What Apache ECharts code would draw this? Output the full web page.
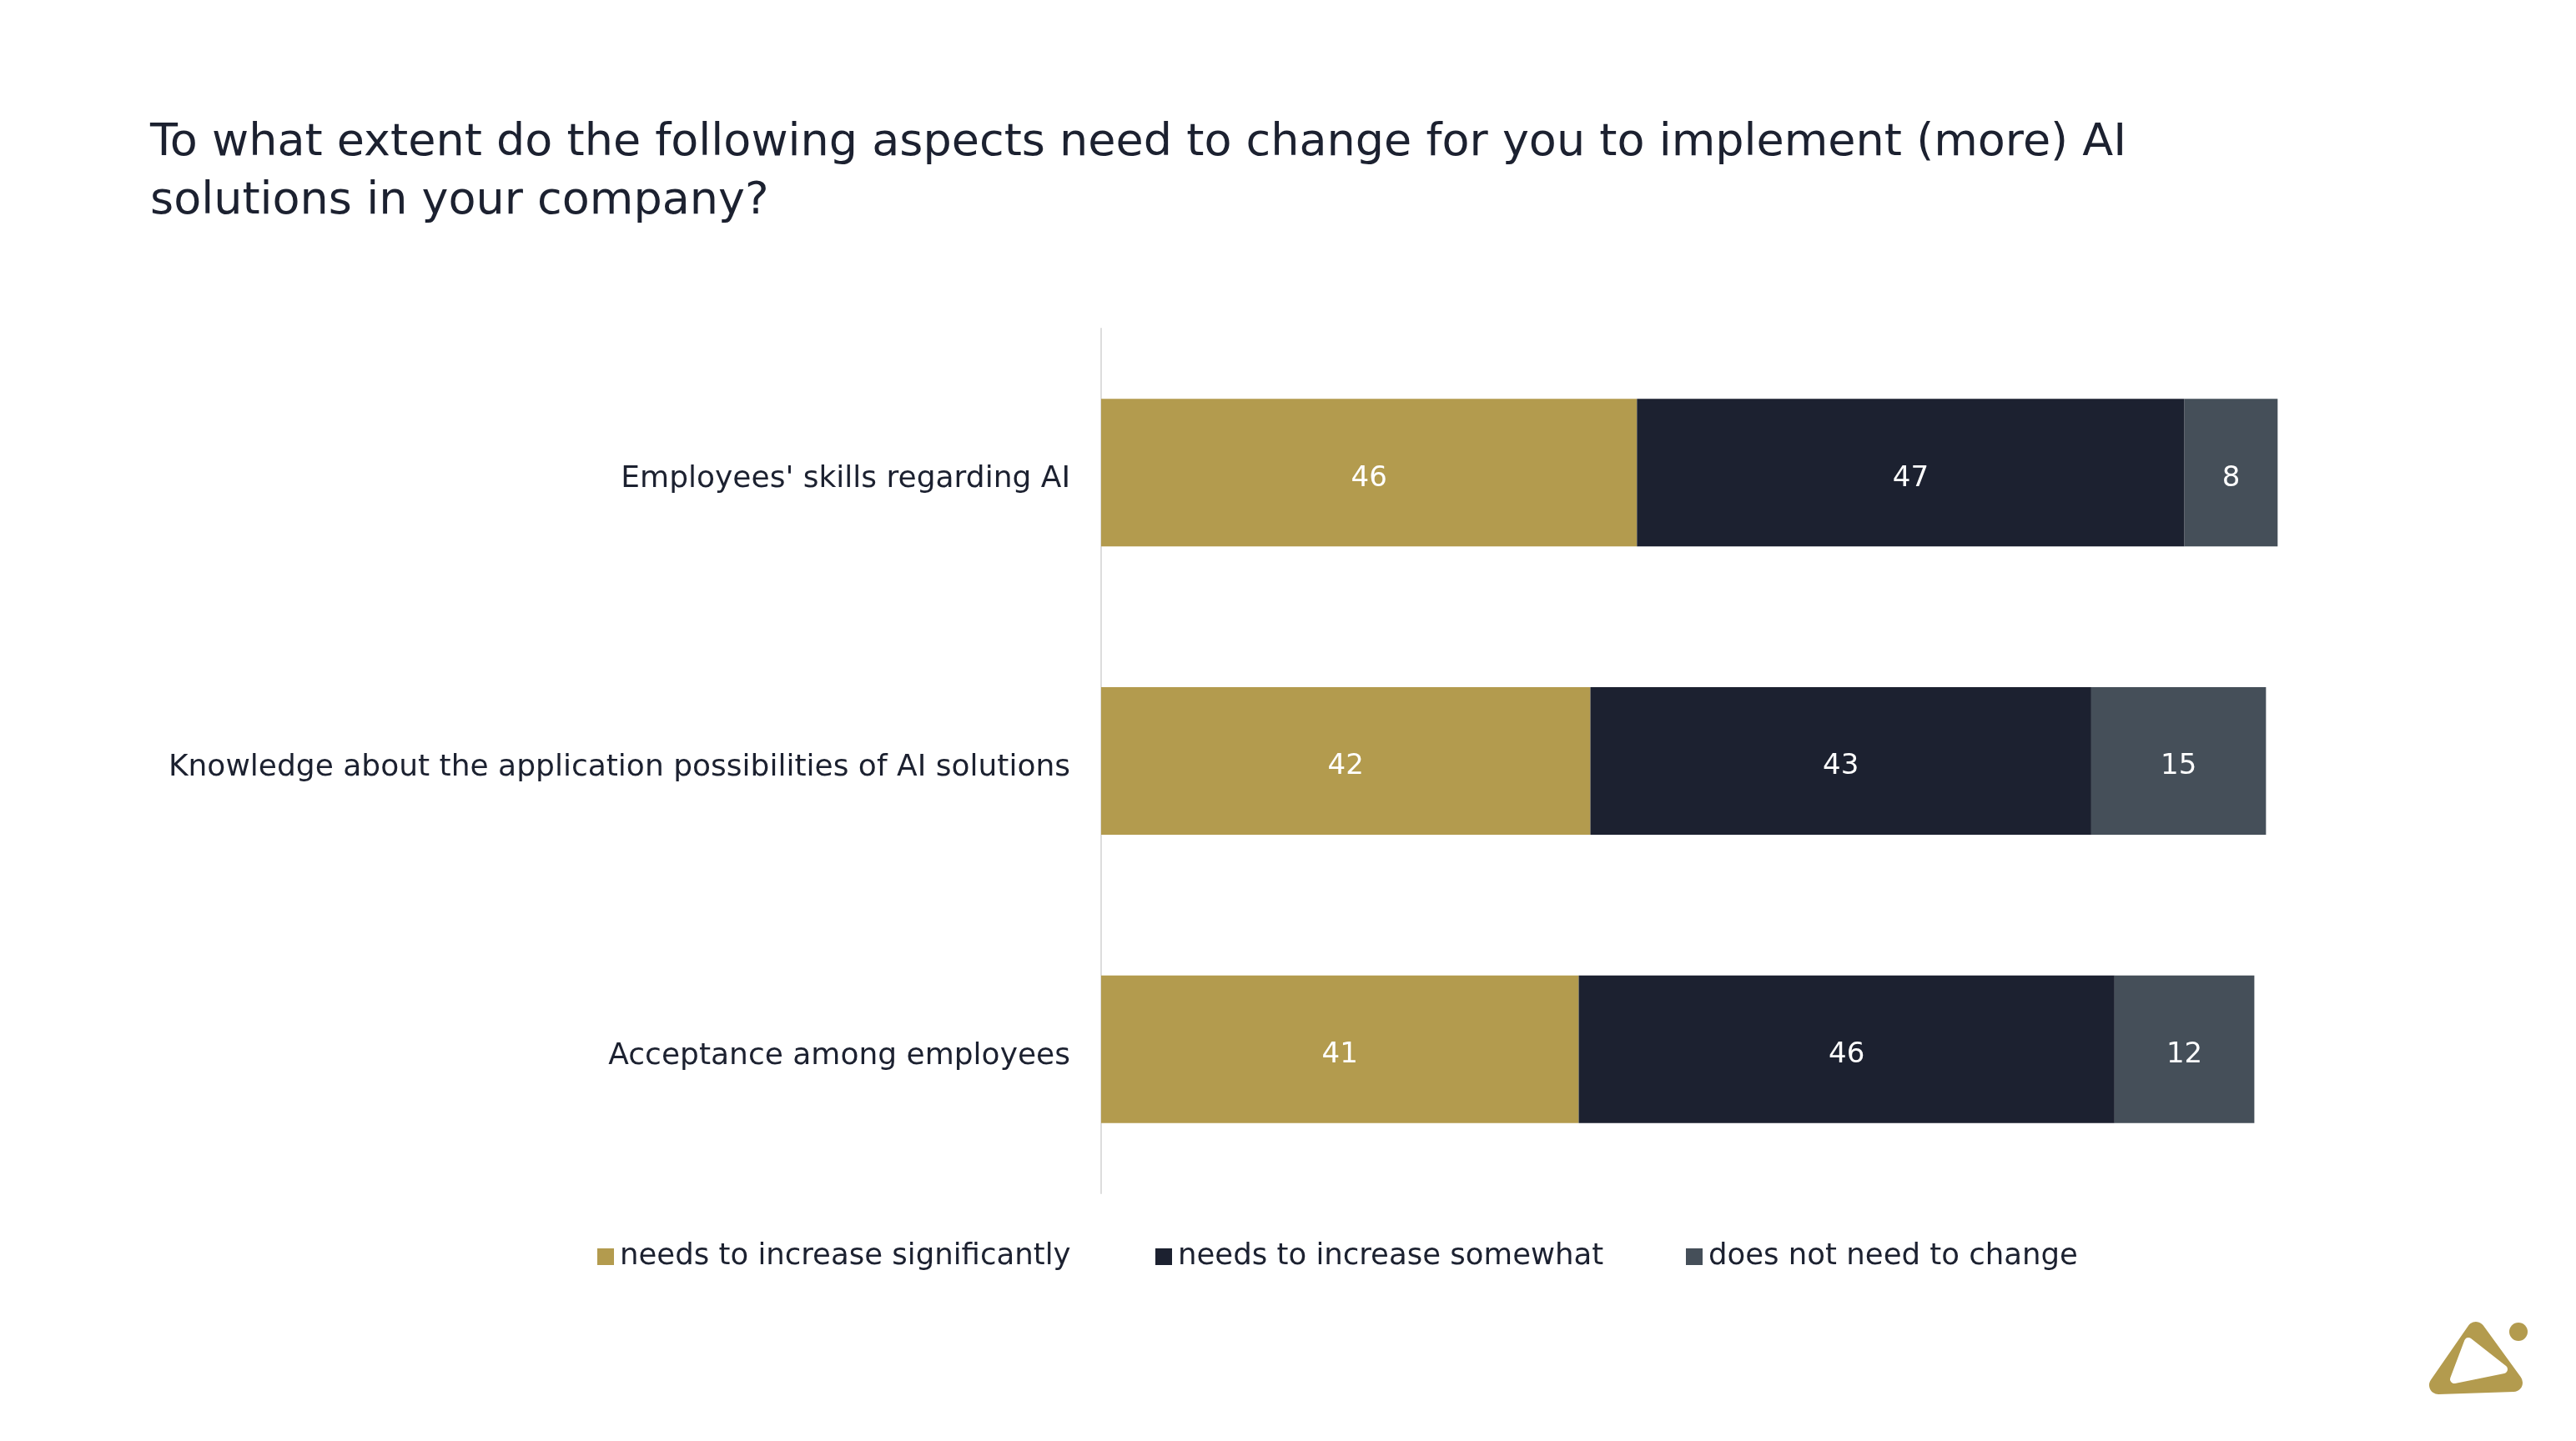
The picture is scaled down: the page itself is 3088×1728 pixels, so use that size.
<!DOCTYPE html>
<html><head><meta charset="utf-8">
<script src="https://cdn.jsdelivr.net/npm/echarts@6/dist/echarts.min.js"></script>
<style>html,body{margin:0;padding:0;background:#fff}#c{width:3088px;height:1728px}</style>
</head><body><div id="c"></div>
<script>
const categories = ["Employees' skills regarding AI", "Knowledge about the application possibilities of AI solutions", "Acceptance among employees"];
const seriesNames = ["needs to increase significantly", "needs to increase somewhat", "does not need to change"];
const increaseSignificantly = [46, 42, 41];
const increaseSomewhat = [47, 43, 46];
const noChange = [8, 15, 12];
const colors = ["#b39b4e", "#1c2130", "#454f59"];
const values = [increaseSignificantly, increaseSomewhat, noChange];
const FONT = "DejaVu Sans";
const legendLefts = [711, 1380, 2016];
const chart = echarts.init(document.getElementById('c'));
chart.setOption({
  backgroundColor: '#ffffff',
  animation: false,
  textStyle: { fontFamily: FONT },
  title: {
    text: "To what extent do the following aspects need to change for you to implement (more) AI\nsolutions in your company?",
    left: 175, top: 132,
    textStyle: { fontFamily: FONT, fontSize: 54, fontWeight: 'normal', color: '#1c2130', lineHeight: 70 }
  },
  legend: seriesNames.map((n, i) => ({
    data: [n],
    left: legendLefts[i], top: 1484,
    icon: 'rect', itemWidth: 20, itemHeight: 20,
    textStyle: { fontFamily: FONT, fontSize: 35.5, color: '#1c2130', padding: [0, 0, 0, 2] }
  })),
  grid: { left: 1320, top: 394, width: 1536, height: 1037 },
  xAxis: { type: 'value', min: 0, max: 110, show: false },
  yAxis: {
    type: 'category', data: categories, inverse: true,
    axisLine: { show: true, lineStyle: { color: '#dddddd', width: 2 } },
    axisTick: { show: false },
    axisLabel: {
      margin: 37,
      formatter: v => '{c|' + v + '}',
      rich: { c: { fontFamily: FONT, fontSize: 36, color: '#1c2130', padding: [16, 0, 0, 0] } }
    }
  },
  series: values.map((v, i) => ({
    name: seriesNames[i], type: 'bar', stack: 'total', data: v,
    barWidth: 177,
    itemStyle: { color: colors[i] },
    label: { show: true, position: 'inside', offset: [0, 7], color: '#ffffff', fontFamily: FONT, fontSize: 34 }
  })),
  graphic: [
    { type: 'polygon', shape: { points: [[2968, 1596], [2923, 1661], [3013, 1658]] },
      style: { fill: '#b39b4e', stroke: '#b39b4e', lineWidth: 22, lineJoin: 'round' } },
    { type: 'polygon', shape: { points: [[2959, 1609], [2942, 1654], [3001, 1642]] },
      style: { fill: '#ffffff', stroke: '#ffffff', lineWidth: 10, lineJoin: 'round' } },
    { type: 'circle', shape: { cx: 3019, cy: 1597, r: 11 }, style: { fill: '#b39b4e' } }
  ]
});
</script></body></html>
